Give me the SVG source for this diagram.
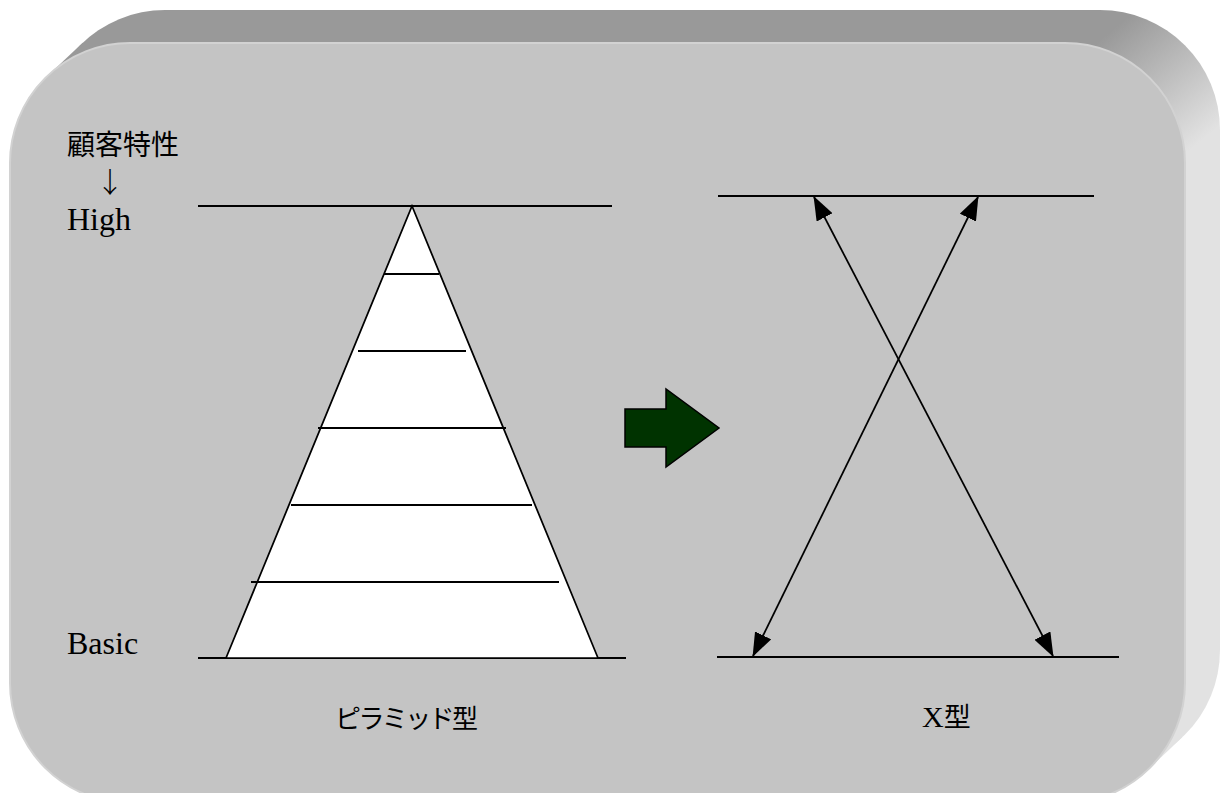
<svg xmlns="http://www.w3.org/2000/svg" width="1220" height="793" viewBox="0 0 1220 793">
  <defs>
    <linearGradient id="bevel" gradientUnits="userSpaceOnUse" x1="1100" y1="40" x2="1190" y2="150">
      <stop offset="0" stop-color="#999999"/>
      <stop offset="1" stop-color="#e2e2e2"/>
    </linearGradient>
    <marker id="ah" markerUnits="userSpaceOnUse" markerWidth="24" markerHeight="18" refX="23" refY="9" orient="auto-start-reverse" viewBox="0 0 24 18">
      <path d="M0,0 L24,9 L0,18 z" fill="#000"/>
    </marker>
    <style>
      .ln { stroke: #000; stroke-width: 2; fill: none; }
      .lat { font-family: "Liberation Serif", "DejaVu Serif", serif; fill: #000; }
      .cjk { font-family: "Liberation Serif", "Noto Sans CJK JP", serif; fill: #000; }
      .jp { font-family: "Noto Sans CJK JP", sans-serif; fill: #000; }
      .conn { stroke: #000; stroke-width: 1.75; fill: none; marker-start: url(#ah); marker-end: url(#ah); }
    </style>
  </defs>

  <g id="panel">
    <rect x="45" y="10" width="1175" height="760" rx="120" ry="120" fill="url(#bevel)"/>
    <polygon points="47.7,75.7 82.7,42.7 1182.3,737.3 1147.3,770.3" fill="url(#bevel)"/>
    <rect x="10" y="43" width="1175" height="760" rx="120" ry="120" fill="#c4c4c4" stroke="#d2d2d2" stroke-width="2"/>
  </g>

  <g id="axis-labels">
    <text class="cjk" x="67" y="155" font-size="28">顧客特性</text>
    <text class="jp" x="110" y="193" font-size="28" font-weight="300" text-anchor="middle">↓</text>
    <text class="lat" x="67" y="230" font-size="32">High</text>
    <text class="lat" x="67" y="654" font-size="32">Basic</text>
  </g>

  <g id="pyramid">
    <line class="ln" x1="198" y1="206" x2="612" y2="206"/>
    <line class="ln" x1="198" y1="658" x2="626" y2="658"/>
    <polygon points="412,206 598,658 226,658" fill="#fff" stroke="#000" stroke-width="1.75" stroke-linejoin="miter"/>
    <line class="ln" x1="384" y1="274" x2="439" y2="274"/>
    <line class="ln" x1="358" y1="351" x2="466" y2="351"/>
    <line class="ln" x1="318" y1="428" x2="506" y2="428"/>
    <line class="ln" x1="291" y1="505" x2="532" y2="505"/>
    <line class="ln" x1="251" y1="582" x2="559" y2="582"/>
    <text class="cjk" x="335" y="728" font-size="26" textLength="143" lengthAdjust="spacing">ピラミッド型</text>
  </g>

  <g id="transition-arrow">
    <polygon points="625,409 666,409 666,389 719,428 666,467 666,447 625,447" fill="#003300" stroke="#000" stroke-width="1.5"/>
  </g>

  <g id="x-shape">
    <line class="ln" x1="718" y1="196" x2="1094" y2="196"/>
    <line class="ln" x1="717" y1="657" x2="1119" y2="657"/>
    <text class="cjk" x="922" y="727" font-size="30"><tspan class="lat">X</tspan><tspan font-size="27">型</tspan></text>
  </g>

  <g id="connectors">
    <line class="conn" x1="1053" y1="656" x2="814" y2="197"/>
    <line class="conn" x1="753" y1="656" x2="978" y2="197"/>
  </g>
</svg>
